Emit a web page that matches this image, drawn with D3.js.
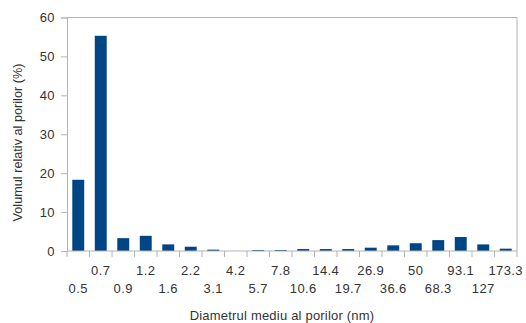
<!DOCTYPE html>
<html>
<head>
<meta charset="utf-8">
<script src="https://cdn.jsdelivr.net/npm/d3@7"></script>
<style>
  html, body { margin: 0; padding: 0; background: #fff; }
  svg { display: block; }
  text { font-family: "Liberation Sans", Arial, sans-serif; fill: #333; }
</style>
</head>
<body>
<svg id="chart" width="526" height="323"></svg>
<script>
// Pore diameter classes (nm) and relative pore volume (%)
const diameters = ["0.5", "0.7", "0.9", "1.2", "1.6", "2.2", "3.1", "4.2", "5.7", "7.8",
                   "10.6", "14.4", "19.7", "26.9", "36.6", "50", "68.3", "93.1", "127", "173.3"];
const volumes = [18.3, 55.3, 3.3, 3.9, 1.7, 1.1, 0.35, 0, 0.25, 0.25,
                 0.5, 0.5, 0.5, 0.85, 1.45, 2.0, 2.8, 3.6, 1.7, 0.6];
const yTicks = [0, 10, 20, 30, 40, 50, 60];
const yTitle = "Volumul relativ al porilor (%)";
const xTitle = "Diametrul mediu al porilor (nm)";

const plotLeft = 67, plotRight = 517, plotTop = 17.5, plotBottom = 251;
const axisColor = "#b3b3b3";
const barColor = "#004586";

const svg = d3.select("#chart");

const x = d3.scaleBand().domain(diameters).range([plotLeft, plotRight]).paddingInner(0.47).paddingOuter(0.235);
const xb = d3.scaleBand().domain(diameters).range([plotLeft, plotRight]);
const y = d3.scaleLinear().domain([0, 60]).range([plotBottom, plotTop]);

// plot frame (top and right edges)
svg.append("path")
  .attr("d", `M${plotLeft},${plotTop}H${plotRight}V${plotBottom}`)
  .attr("fill", "none").attr("stroke", axisColor).attr("stroke-width", 1);

// bars
svg.append("g").selectAll("rect")
  .data(diameters.map((d, i) => ({ d, v: volumes[i] })))
  .join("rect")
  .attr("x", d => x(d.d))
  .attr("width", x.bandwidth())
  .attr("y", d => y(d.v))
  .attr("height", d => y(0) - y(d.v))
  .attr("fill", barColor);

// y axis
const yAxis = svg.append("g")
  .attr("transform", `translate(${plotLeft},0)`)
  .call(d3.axisLeft(y).tickValues(yTicks).tickSize(6).tickPadding(6).tickFormat(d3.format("d")));
yAxis.select(".domain").attr("stroke", axisColor);
yAxis.selectAll(".tick line").attr("stroke", axisColor);
yAxis.selectAll(".tick text").attr("font-size", 13).attr("fill", "#333")
  .attr("letter-spacing", 0.4)
  .attr("font-family", "Liberation Sans, Arial, sans-serif");

// x axis: ticks at category boundaries
const boundaries = diameters.map(d => xb(d)).concat([plotRight]);
const xAxisG = svg.append("g");
xAxisG.append("line").attr("x1", plotLeft).attr("x2", plotRight).attr("y1", plotBottom).attr("y2", plotBottom)
  .attr("stroke", axisColor);
xAxisG.selectAll("line.tk").data(boundaries).join("line").attr("class", "tk")
  .attr("x1", d => d).attr("x2", d => d).attr("y1", plotBottom).attr("y2", plotBottom + 6)
  .attr("stroke", axisColor);

// category labels staggered over two rows
xAxisG.selectAll("text.lbl").data(diameters).join("text").attr("class", "lbl")
  .attr("x", d => xb(d) + xb.bandwidth() / 2)
  .attr("y", (d, i) => i % 2 === 1 ? 274.5 : 292.5)
  .attr("text-anchor", "middle")
  .attr("font-size", 13)
  .attr("letter-spacing", 0.4)
  .text(d => d);

// axis titles
svg.append("text")
  .attr("x", 282).attr("y", 320)
  .attr("text-anchor", "middle").attr("font-size", 13)
  .attr("letter-spacing", 0.2)
  .text(xTitle);
svg.append("text")
  .attr("transform", `translate(22,142.5) rotate(-90)`)
  .attr("text-anchor", "middle").attr("font-size", 12.7)
  .text(yTitle);
</script>
</body>
</html>
